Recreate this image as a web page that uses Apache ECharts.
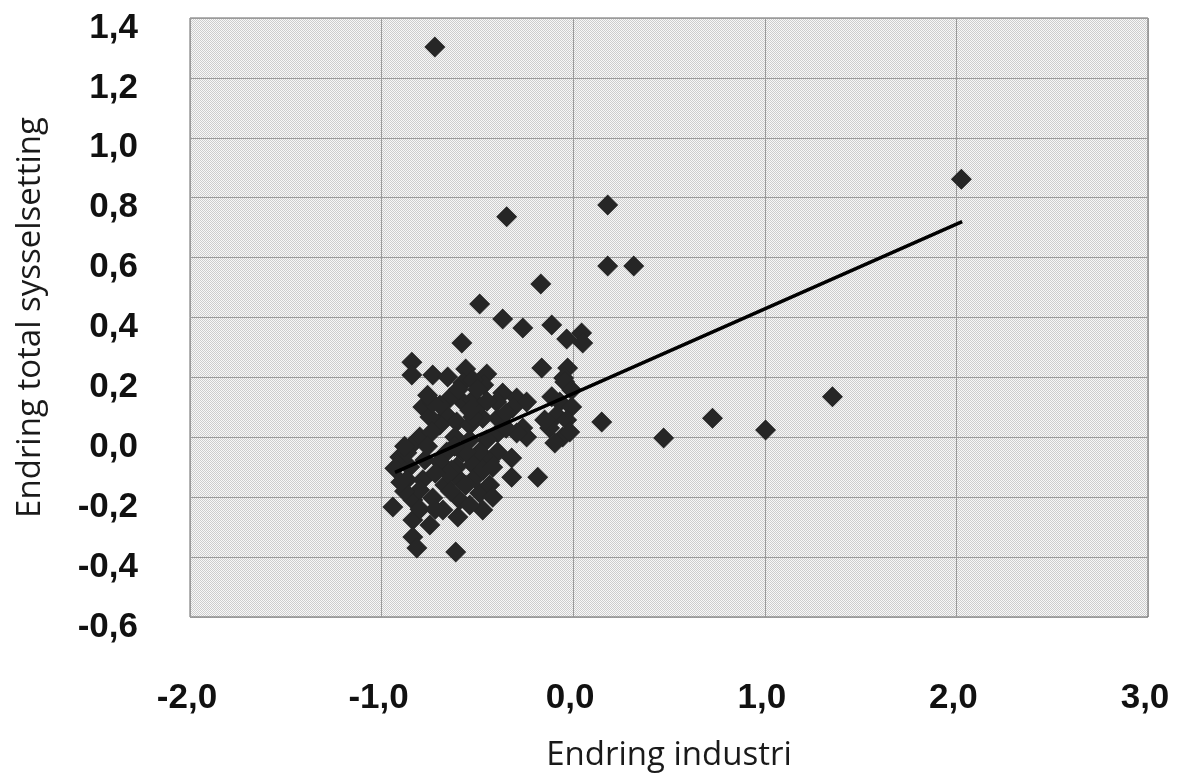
<!DOCTYPE html>
<html>
<head>
<meta charset="utf-8">
<script src="https://cdn.jsdelivr.net/npm/echarts@6/dist/echarts.min.js"></script>
<style>
html,body{margin:0;padding:0;background:#fff;}
#chart{width:1177px;height:780px;}
</style>
</head>
<body>
<div id="chart"></div>
<script>
// Data
const pointsX = [
 -0.722, 2.026, -0.347, 0.180, 0.180, 0.316, -0.169, -0.488, -0.368, -0.263,
 -0.112, -0.034, 0.044, 0.050, -0.581, -0.164, -0.029, -0.050, 0.149, 0.472,
 0.727, 1.004, 1.353, -0.613, -0.321, -0.185, -0.842, -0.842, -0.733, -0.655,
 -0.561, -0.576, -0.451, -0.467, -0.524, -0.368, -0.295, -0.243, -0.399, -0.316,
 -0.394, -0.472, -0.498, -0.576, -0.644, -0.660, -0.608, -0.540, -0.696, -0.263,
 -0.243, -0.295, -0.394, -0.451, -0.540, -0.618, -0.660, -0.576, -0.488, -0.394,
 -0.321, -0.436, -0.524, -0.608, -0.044, -0.008, -0.070, -0.008, -0.086, -0.034,
 -0.123, -0.055, -0.096, -0.018, -0.149, -0.112, -0.785, -0.696, -0.748, -0.524,
 -0.524, -0.801, -0.853, -0.738, -0.905, -0.931, -0.853, -0.774, -0.696, -0.941,
 -0.837, -0.868, -0.785, -0.801, -0.733, -0.680, -0.837, -0.837, -0.816, -0.748,
 -0.602, -0.592, -0.488, -0.472, -0.540, -0.670, -0.592, -0.514, -0.436, -0.634,
 -0.868, -0.420, -0.733, -0.880, -0.760, -0.650, -0.560, -0.470, -0.420, -0.350,
 -0.720, -0.640, -0.560, -0.880, -0.800, -0.720, -0.620, -0.540, -0.900, -0.760,
 -0.350, -0.600, -0.500, -0.450
];
const pointsY = [
 1.303, 0.862, 0.736, 0.776, 0.572, 0.572, 0.512, 0.445, 0.395, 0.365,
 0.375, 0.328, 0.348, 0.315, 0.315, 0.231, 0.231, 0.198, 0.051, -0.002,
 0.064, 0.024, 0.135, -0.383, -0.133, -0.133, 0.251, 0.208, 0.208, 0.201,
 0.228, 0.181, 0.211, 0.175, 0.191, 0.148, 0.131, 0.118, 0.118, 0.098,
 0.064, 0.064, 0.101, 0.118, 0.131, 0.074, 0.051, 0.041, 0.041, 0.031,
 0.001, 0.014, 0.014, -0.009, -0.009, 0.001, -0.049, -0.052, -0.049, -0.049,
 -0.069, -0.082, -0.092, -0.099, 0.185, 0.158, 0.118, 0.101, 0.074, 0.058,
 0.031, 0.001, -0.019, 0.018, 0.058, 0.135, 0.101, 0.108, 0.068, 0.125,
 0.068, 0.001, -0.032, 0.018, -0.066, -0.103, -0.099, -0.076, -0.082, -0.233,
 -0.209, -0.142, -0.142, -0.176, -0.203, -0.243, -0.276, -0.333, -0.370, -0.293,
 -0.266, -0.209, -0.186, -0.243, -0.226, -0.159, -0.142, -0.136, -0.159, -0.109,
 -0.052, -0.200, 0.115, -0.030, -0.030, -0.120, -0.160, -0.110, -0.100, 0.030,
 -0.120, -0.180, -0.050, -0.180, -0.240, -0.240, -0.030, 0.090, -0.150, 0.140,
 0.080, 0.160, 0.160, 0.120
];
// Trend line end points
const trendX = [-0.93, 2.03];
const trendY = [-0.117, 0.72];
// Axis titles
const xAxisTitle = 'Endring industri';
const yAxisTitle = 'Endring total sysselsetting';

const scatterData = pointsX.map((x, i) => [x, pointsY[i]]);
const trendData = trendX.map((x, i) => [x, trendY[i]]);

// dotted background pattern
const pat = document.createElement('canvas');
pat.width = 2; pat.height = 2;
const pc = pat.getContext('2d');
pc.fillStyle = '#f8f8f8'; pc.fillRect(0, 0, 2, 2);
pc.fillStyle = '#cdcdcd'; pc.fillRect(0, 0, 1, 1); pc.fillRect(1, 1, 1, 1);

const fmt = v => (Math.round(v * 10) / 10).toFixed(1).replace('.', ',');

const chart = echarts.init(document.getElementById('chart'), null, {renderer: 'canvas'});
chart.setOption({
  animation: false,
  backgroundColor: '#ffffff',
  grid: {
    left: 190, top: 18, right: 29, bottom: 163,
    show: true,
    backgroundColor: {image: pat, repeat: 'repeat'},
    borderColor: '#666', borderWidth: 1
  },
  xAxis: {
    type: 'value', min: -2, max: 3, interval: 1,
    axisLine: {show: false}, axisTick: {show: false},
    splitLine: {show: true, lineStyle: {color: '#9a9a9a', width: 1}},
    axisLabel: {
      formatter: fmt, margin: 64, padding: [0, 6, 0, 0],
      fontFamily: 'Liberation Sans', fontWeight: 'bold', fontSize: 35, color: '#111'
    },
    name: xAxisTitle, nameLocation: 'middle', nameGap: 122,
    nameTextStyle: {fontFamily: 'Open Sans', fontSize: 33, color: '#1a1a1a'}
  },
  yAxis: {
    type: 'value', min: -0.6, max: 1.4, interval: 0.2,
    axisLine: {show: false}, axisTick: {show: false},
    splitLine: {show: true, lineStyle: {color: '#9a9a9a', width: 1}},
    axisLabel: {
      formatter: fmt, margin: 52, verticalAlign: 'top', lineHeight: 20,
      fontFamily: 'Liberation Sans', fontWeight: 'bold', fontSize: 35, color: '#111'
    },
    name: yAxisTitle, nameLocation: 'middle', nameGap: 143, nameRotate: 90,
    nameTextStyle: {fontFamily: 'Open Sans', fontSize: 33, color: '#1a1a1a'}
  },
  series: [
    {
      type: 'scatter', symbol: 'diamond', symbolSize: 21,
      itemStyle: {color: '#262626', opacity: 1},
      data: scatterData, z: 2
    },
    {
      type: 'line', data: trendData, showSymbol: false, symbol: 'none',
      lineStyle: {color: '#000', width: 3.5}, z: 3
    }
  ]
});
</script>
</body>
</html>
